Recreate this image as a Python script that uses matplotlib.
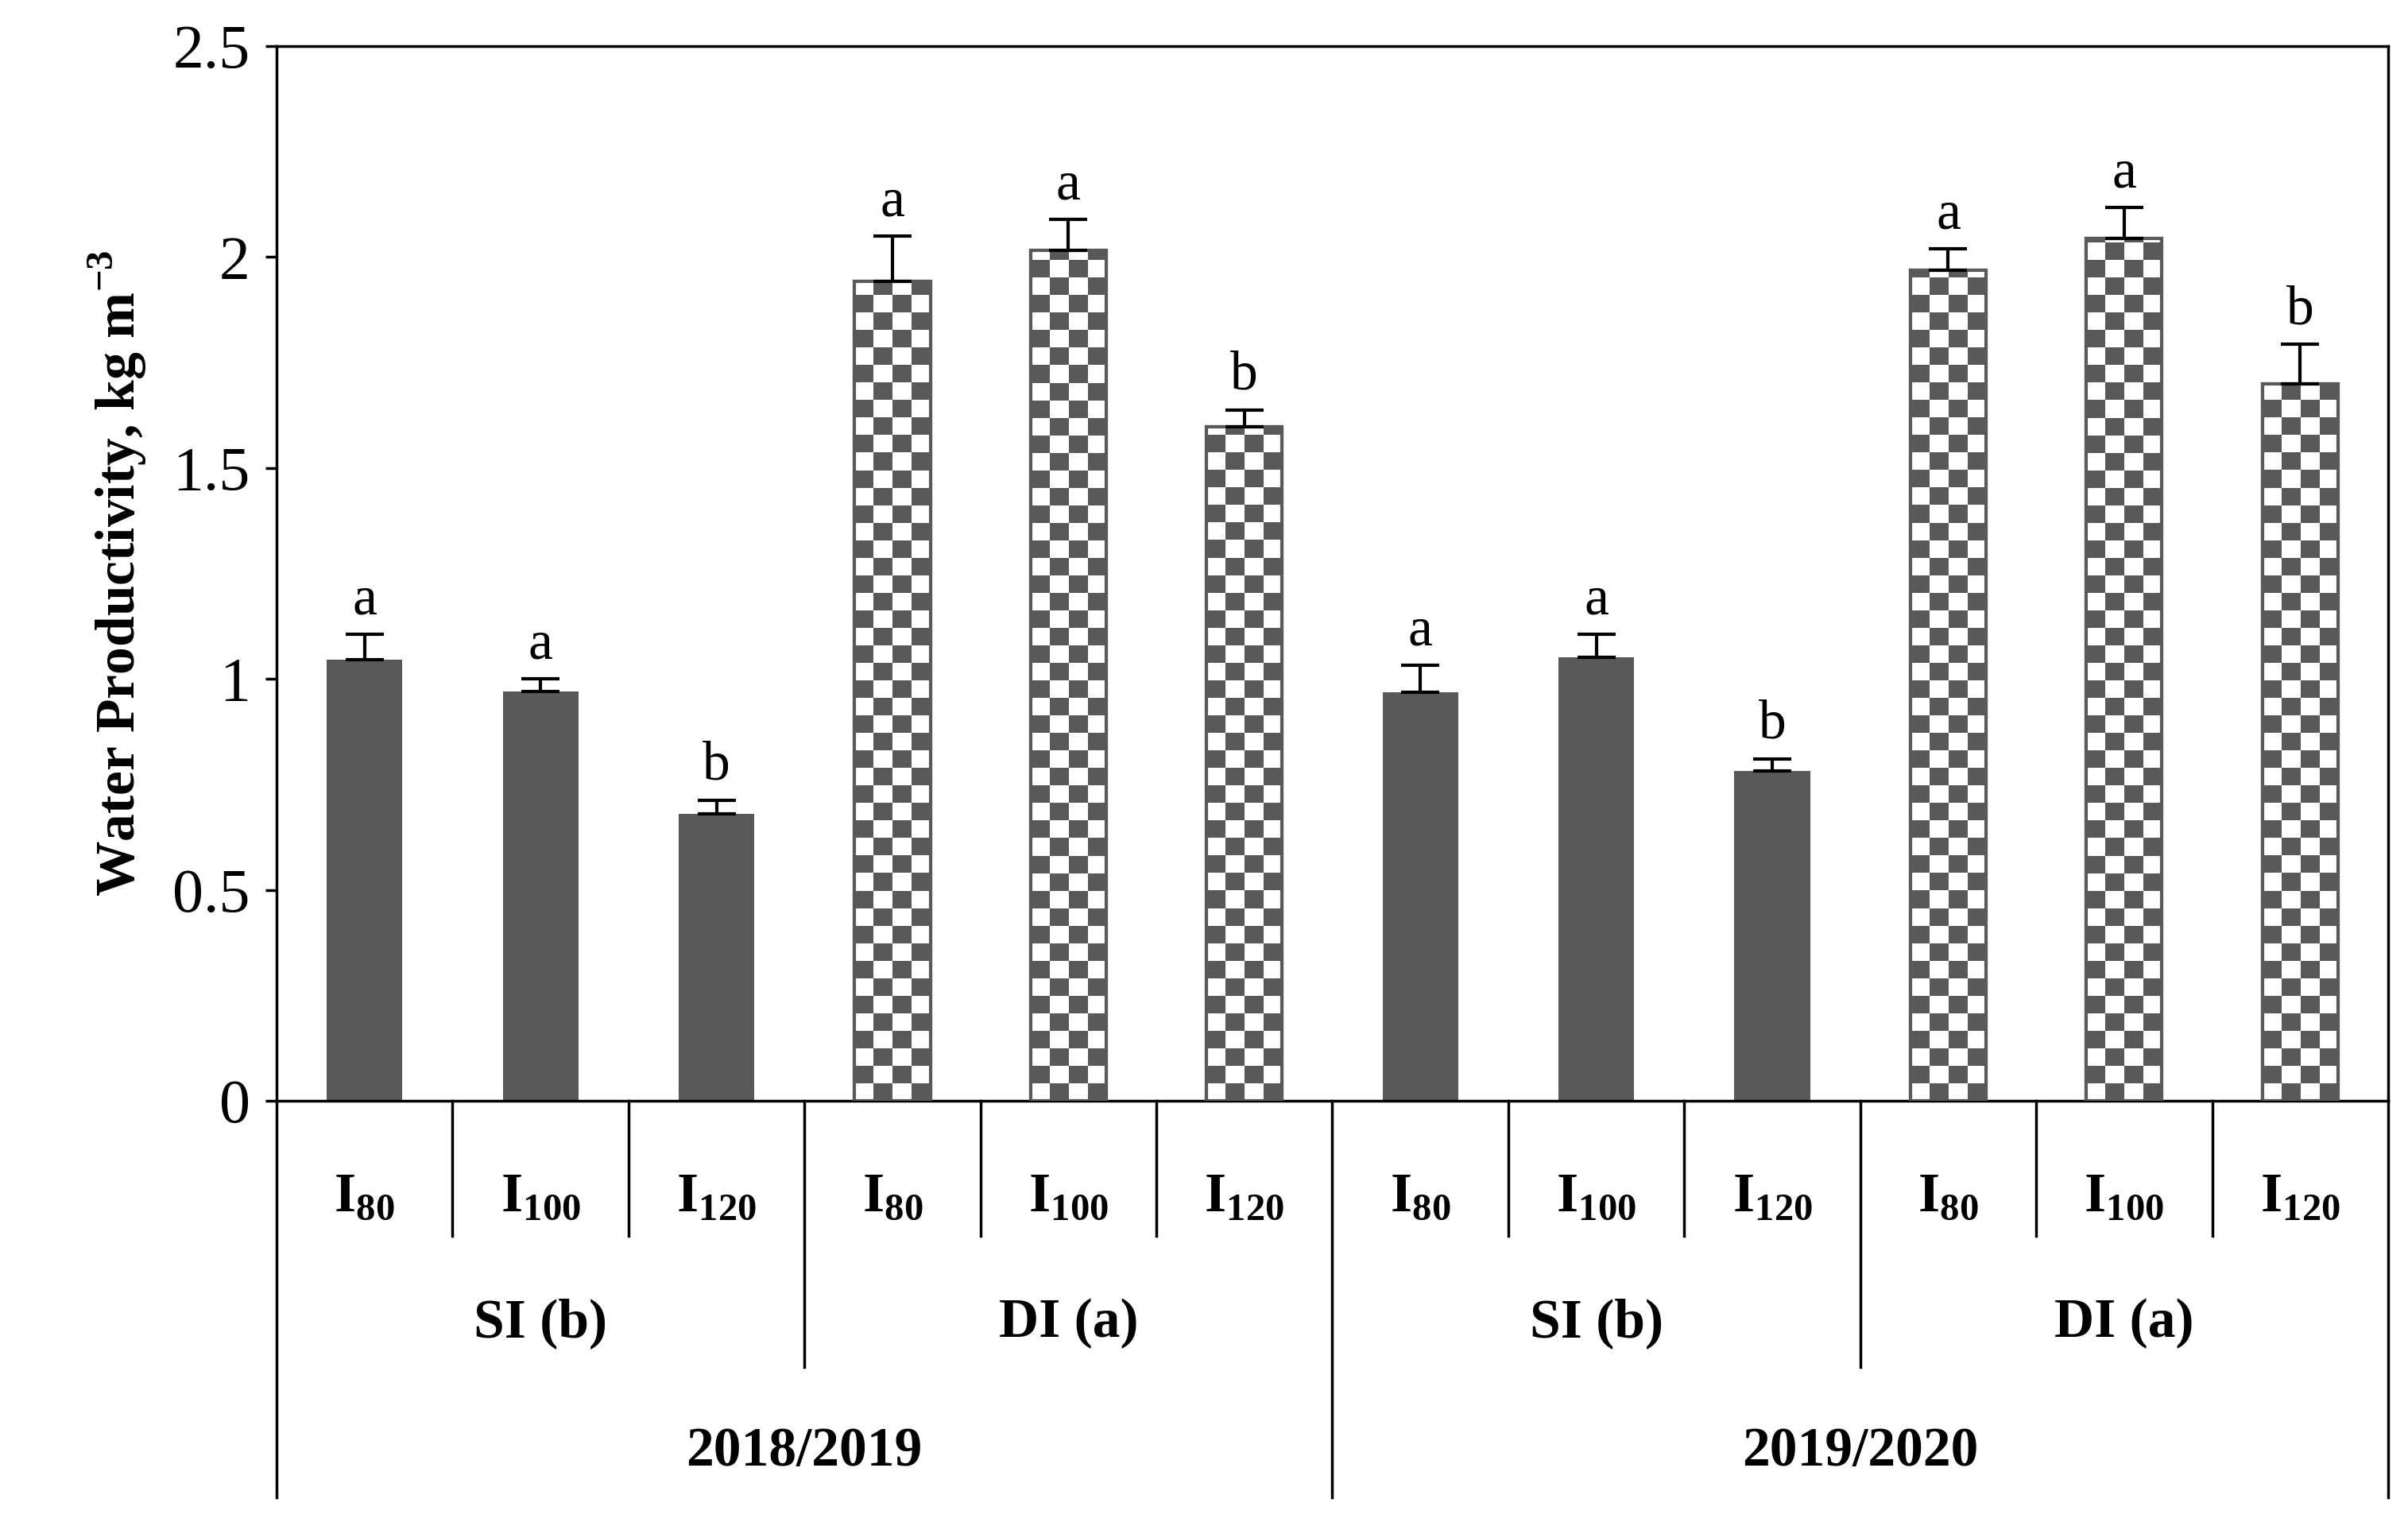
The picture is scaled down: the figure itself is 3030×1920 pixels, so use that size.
import numpy as np
import matplotlib
matplotlib.use("Agg")
import matplotlib.pyplot as plt
from matplotlib.colors import ListedColormap

plt.rcParams['font.family'] = ['Liberation Serif']
plt.rcParams['mathtext.fontset'] = 'custom'
plt.rcParams['mathtext.rm'] = 'Liberation Serif:bold'
plt.rcParams['mathtext.bf'] = 'Liberation Serif:bold'

levels = ["80", "100", "120"]
methods = ["SI (b)", "DI (a)", "SI (b)", "DI (a)"]
seasons = ["2018/2019", "2019/2020"]
values = [1.045, 0.97, 0.68, 1.943, 2.015, 1.598,
          0.968, 1.052, 0.782, 1.969, 2.045, 1.70]
errors = [0.06, 0.03, 0.033, 0.107, 0.075, 0.04,
          0.065, 0.054, 0.029, 0.051, 0.073, 0.094]
letters = ["a", "a", "b", "a", "a", "b", "a", "a", "b", "a", "a", "b"]
checkered = [False, False, False, True, True, True,
             False, False, False, True, True, True]

dark = "#595959"
fig = plt.figure(figsize=(30.3, 19.2), dpi=100)
ax = fig.add_axes([348/3030, 1 - 1385/1920, (3005-348)/3030, (1385-58)/1920])
x = np.arange(len(values))
w = 0.43
cmap = ListedColormap(["white", dark])
for xi, v, e, lt, chk in zip(x, values, errors, letters, checkered):
    if chk:
        b = ax.bar(xi, v, w, facecolor="white", edgecolor=dark, linewidth=3, zorder=2)[0]
        nr = int(np.ceil(v / 0.0415))
        ii, jj = np.indices((nr, 4))
        board = (ii + jj) % 2
        im = ax.imshow(board, extent=[xi - w/2, xi + w/2, 0, nr*0.0415], origin="lower",
                       cmap=cmap, interpolation="nearest", aspect="auto", zorder=2.5)
        im.set_clip_path(b)
        ax.bar(xi, v, w, facecolor="none", edgecolor=dark, linewidth=3, zorder=3)
    else:
        ax.bar(xi, v, w, color=dark, zorder=2)
    ax.errorbar(xi, v, yerr=[[0], [e]], fmt="none", ecolor="black", elinewidth=3,
                capsize=17, capthick=3, zorder=4)
    ax.text(xi, v + e + 0.02, lt, ha="center", va="bottom", fontsize=50)

ax.set_xlim(-0.5, 11.5)
ax.set_ylim(0, 2.5)
ax.set_aspect("auto")
ax.set_yticks([0, 0.5, 1, 1.5, 2, 2.5])
ax.set_yticklabels(["0", "0.5", "1", "1.5", "2", "2.5"], fontsize=56)
ax.tick_params(axis="y", direction="out", length=10, width=2.5, pad=14)
ax.set_xticks([])
for s in ax.spines.values():
    s.set_linewidth(2.5)
ax.set_ylabel("Water Productivity, kg m$^{-3}$", fontsize=50, fontweight="bold", labelpad=22)
ax.yaxis.label.set_math_fontfamily('custom')

# category table below axis (axes-fraction y, data x)
tr = ax.get_xaxis_transform()
ax_h = 1327
def yf(px):
    return -px / ax_h
for k in range(13):
    if k in (0, 12):
        y1 = yf(1884 - 1385)
    elif k == 6:
        y1 = yf(1884 - 1385)
    elif k % 3 == 0:
        y1 = yf(1720 - 1385)
    else:
        y1 = yf(1555 - 1385)
    ax.plot([k - 0.5, k - 0.5], [0, y1], transform=tr, color="black", lw=2.5, clip_on=False)
for xi in x:
    ax.text(xi, yf(1507 - 1385), r"$\mathrm{I}_{%s}$" % levels[xi % 3], transform=tr,
            ha="center", va="center", fontsize=50)
for gi, m in enumerate(methods):
    ax.text(gi*3 + 1, yf(1665 - 1385), m, transform=tr, ha="center", va="center",
            fontsize=50, fontweight="bold")
for si, sname in enumerate(seasons):
    ax.text(si*6 + 2.5, yf(1827 - 1385), sname, transform=tr, ha="center", va="center",
            fontsize=50, fontweight="bold")

fig.savefig("out.png", dpi=100)
